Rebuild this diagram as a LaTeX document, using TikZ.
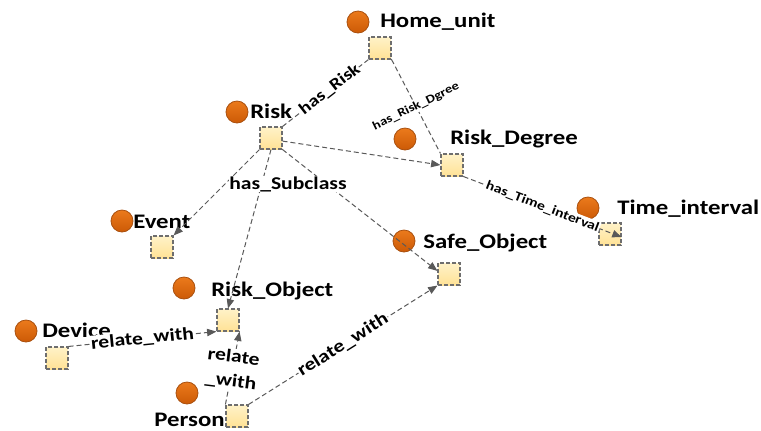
\documentclass[tikz,border=0pt]{standalone}
\usepackage{fontspec}
\setmainfont{Carlito}[FakeStretch=1.2]
\usetikzlibrary{arrows.meta}

\definecolor{orbTop}{HTML}{EB7A1C}
\definecolor{orbBot}{HTML}{CC5A06}
\definecolor{orbEdge}{HTML}{A9500F}
\definecolor{boxTop}{HTML}{FFF2C8}
\definecolor{boxBot}{HTML}{FFE296}
\definecolor{boxEdge}{HTML}{6E6E6E}
\definecolor{linkGray}{HTML}{595959}

\tikzset{
  orb/.style={circle, minimum size=16.5pt, inner sep=0pt,
    top color=orbTop, bottom color=orbBot, draw=orbEdge, line width=0.6pt},
  box/.style={rectangle, minimum size=16.5pt, inner sep=0pt,
    top color=boxTop, bottom color=boxBot, draw=boxEdge,
    dash pattern=on 3pt off 1.5pt, line width=0.85pt},
  nodetitle/.style={anchor=base west, inner sep=0pt,
    font=\bfseries\fontsize{15.5}{18}\selectfont},
  link/.style={draw=linkGray, line width=0.75pt, dash pattern=on 3.75pt off 2.25pt},
  arrowed/.style={link, -{Triangle[length=7pt,width=5.5pt]}, fill=none},
  lbl/.style={fill=white, inner sep=0.6pt, font=\bfseries\fontsize{13.5}{18.5}\selectfont},
  lblsmall/.style={fill=white, inner sep=0.6pt, font=\bfseries\fontsize{9}{11}\selectfont},
  lblmid/.style={fill=white, inner sep=0.6pt, font=\bfseries\fontsize{9.8}{12}\selectfont},
}

\begin{document}
\begin{tikzpicture}[x=0.75pt, y=-0.75pt]
\useasboundingbox (0,0) rectangle (761,430);

% classes: marker, box and title
\node[orb] (cHome) at (358,22) {};
\node[box] (home) at (380,48) {};
\node[nodetitle] (tHome) at (380,27) {Home\_unit};

\node[orb] (cRisk) at (237,112) {};
\node[box] (risk) at (271,138) {};
\node[nodetitle] (tRisk) at (250,118) {Risk};

\node[orb] (cRd) at (405,139) {};
\node[box] (rd) at (452,165) {};
\node[nodetitle] (tRd) at (450,144) {Risk\_Degree};

\node[orb] (cEvent) at (122,221) {};
\node[box] (event) at (162,247) {};
\node[nodetitle] (tEvent) at (133,228) {Event};

\node[orb] (cTi) at (588,208) {};
\node[box] (ti) at (610,234) {};
\node[nodetitle] (tTi) at (617,214) {Time\_interval};

\node[orb] (cSafe) at (404,241) {};
\node[box] (safe) at (449,274) {};
\node[nodetitle] (tSafe) at (423,248) {Safe\_Object};

\node[orb] (cRobj) at (184,288) {};
\node[box] (robj) at (228,320) {};
\node[nodetitle] (tRobj) at (211,296) {Risk\_Object};

\node[orb] (cDev) at (26,331) {};
\node[box] (dev) at (57,358) {};
\node[nodetitle] (tDev) at (42,337) {Device};

\node[orb] (cPer) at (187,393) {};
\node[box] (per) at (237,416) {};
\node[nodetitle, anchor=base east] (tPer) at (225,426) {Person};

% relations
\draw[link] (home.south west) -- node[lbl, sloped, pos=0.45, inner sep=0.3pt, font=\bfseries\fontsize{12.5}{15}\selectfont] {has\_Risk} (risk.north east);
\draw[link] (home.south east) -- node[lblsmall, rotate=26] {has\_Risk\_Dgree} (rd.north west);
\draw[arrowed] (risk.-15) -- (rd.west);
\draw[arrowed] (risk.south west) -- (event.north east);
\draw[arrowed] (risk.south) -- (robj.north);
\draw[arrowed] (risk.south east) -- (safe.165);
\draw[arrowed] (rd.south east) -- node[lblmid, sloped] {has\_Time\_interval} (ti.-15);
\draw[arrowed] (dev.north east) -- node[lbl, sloped] {relate\_with} (robj.south west);
\draw[arrowed] (per.north west) -- node[lbl, rotate=-7, align=center, pos=0.48] {relate\\\_with} (robj.south east);
\draw[arrowed] (per.north east) -- node[lbl, sloped] {relate\_with} (safe.south west);

\node[lbl] (sub) at (288,184) {has\_Subclass};
\end{tikzpicture}
\end{document}
